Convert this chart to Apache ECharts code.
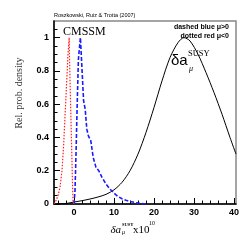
<!DOCTYPE html>
<html><head><meta charset="utf-8">
<script src="https://cdn.jsdelivr.net/npm/echarts@6/dist/echarts.min.js"></script>
<style>html,body{margin:0;padding:0;background:#fff}#c{width:249px;height:249px}</style>
</head><body><div id="c"></div>
<script>
// Data
const blackX = [-5,-2,0,2,4,6,8,10,12,14,16,18,20,22,24,26,27.5,29,31,33,35,37,39,40.5];
const blackY = [0,0.003,0.012,0.02,0.03,0.042,0.058,0.085,0.13,0.2,0.3,0.43,0.58,0.74,0.88,0.97,1.0,0.98,0.9,0.79,0.67,0.54,0.4,0.3];
const blueX = [0,0.25,0.5,0.8,1.1,1.5,1.6,2.0,2.4,2.8,3.2,3.6,4.2,4.8,5.5,6.2,7,8,9,10,11,12,13,14,15,16,17,18];
const blueY = [0,0.08,0.3,0.6,0.87,0.87,1.0,1.0,0.62,0.57,0.45,0.41,0.38,0.28,0.22,0.2,0.16,0.12,0.09,0.065,0.045,0.032,0.022,0.015,0.01,0.006,0.003,0];
const redX = [-5,-4.5,-4,-3.5,-3,-2.6,-2.2,-1.8,-1.5,-1.2,-1.1,-0.8,-0.6,-0.4,-0.25,0];
const redY = [0,0.02,0.05,0.1,0.2,0.35,0.55,0.75,0.9,1.0,0.85,0.55,0.35,0.15,0.02,0];
const xMajorTicks = [0,10,20,30,40];
const xMinorTicks = [-4,-2,2,4,6,8,12,14,16,18,22,24,26,28,32,34,36,38];
const yMajorTicks = [0,0.2,0.4,0.6,0.8,1];
const yMinorTicks = [0.05,0.1,0.15,0.25,0.3,0.35,0.45,0.5,0.55,0.65,0.7,0.75,0.85,0.9,0.95,1.05];

const zip = (xs, ys) => xs.map((x, i) => [x, ys[i]]);
const chart = echarts.init(document.getElementById('c'));
const lblFont = {fontFamily:'Liberation Sans', fontWeight:'bold', fontSize:9, color:'#000'};
chart.setOption({
  animation:false,
  grid:{left:54, right:13, top:21, bottom:45, show:true, borderColor:'#888', borderWidth:1.5, backgroundColor:'transparent'},
  xAxis:[
    {type:'value', min:-5, max:40.5, gridIndex:0,
     axisLine:{show:true, onZero:false, lineStyle:{color:'#000', width:1.5}},
     axisTick:{show:true, inside:true, length:6, customValues:xMajorTicks, lineStyle:{color:'#000'}},
     axisLabel:{show:true, customValues:xMajorTicks, margin:4, ...lblFont},
     splitLine:{show:false}},
    {type:'value', min:-5, max:40.5, gridIndex:0, position:'bottom',
     axisLine:{show:false, onZero:false},
     axisTick:{show:true, inside:true, length:3.5, customValues:xMinorTicks, lineStyle:{color:'#000'}},
     axisLabel:{show:false}, splitLine:{show:false}}
  ],
  yAxis:[
    {type:'value', min:0, max:1.1, gridIndex:0,
     axisLine:{show:true, onZero:false, lineStyle:{color:'#000', width:1.5}},
     axisTick:{show:true, inside:true, length:6, customValues:yMajorTicks, lineStyle:{color:'#000'}},
     axisLabel:{show:true, customValues:yMajorTicks, margin:5, ...lblFont,
       formatter:v => (v===0?'0':(v===1?'1':v.toFixed(1)))},
     splitLine:{show:false}},
    {type:'value', min:0, max:1.1, gridIndex:0, position:'left',
     axisLine:{show:false, onZero:false},
     axisTick:{show:true, inside:true, length:3.5, customValues:yMinorTicks, lineStyle:{color:'#000'}},
     axisLabel:{show:false}, splitLine:{show:false}}
  ],
  series:[
    {type:'line', data:zip(blackX, blackY), smooth:0.3, symbol:'none', lineStyle:{color:'#000', width:1}},
    {type:'line', data:zip(blueX, blueY), symbol:'none', lineStyle:{color:'#1a1aff', width:1.6, type:[4,2]}},
    {type:'line', data:zip(redX, redY), symbol:'none', lineStyle:{color:'#ff2020', width:1.2, type:[1.5,1.5]}}
  ],
  graphic:[
    {type:'text', left:54, top:12, style:{text:'Roszkowski, Ruiz & Trotta (2007)', font:'5.5px "Liberation Sans"', fill:'#000'}},
    {type:'text', x:63, y:31.5, style:{text:'CMSSM', font:'12px "Liberation Serif"', fill:'#000', verticalAlign:'middle'}},
    {type:'text', x:229, y:27, style:{text:'dashed blue \u03bc>0', font:'bold 7px "Liberation Sans"', fill:'#000', align:'right', verticalAlign:'middle'}},
    {type:'text', x:229, y:36.5, style:{text:'dotted red \u03bc<0', font:'bold 7px "Liberation Sans"', fill:'#000', align:'right', verticalAlign:'middle'}},
    {type:'text', x:171, y:61, style:{text:'\u03b4a', font:'15px "Liberation Sans"', fill:'#000', verticalAlign:'middle'}},
    {type:'text', x:188, y:54, style:{text:'SUSY', font:'8.5px "Liberation Serif"', fill:'#000', verticalAlign:'middle'}},
    {type:'text', x:189, y:69, style:{text:'\u03bc', font:'italic 8px "Liberation Serif"', fill:'#000', verticalAlign:'middle'}},
    {type:'text', x:19, y:93, rotation:Math.PI/2, style:{text:'Rel. prob. density', font:'10px "Liberation Serif"', fill:'#333', align:'center', verticalAlign:'middle'}},
    {type:'text', x:110.5, y:230, style:{text:'\u03b4a', font:'italic 11px "Liberation Serif"', fill:'#000', verticalAlign:'middle'}},
    {type:'text', x:122, y:224.5, style:{text:'SUSY', font:'bold 4.5px "Liberation Serif"', fill:'#000', verticalAlign:'middle'}},
    {type:'text', x:122, y:232.5, style:{text:'\u03bc', font:'italic 6px "Liberation Serif"', fill:'#000', verticalAlign:'middle'}},
    {type:'text', x:133, y:230, style:{text:'x10', font:'11px "Liberation Serif"', fill:'#000', verticalAlign:'middle'}},
    {type:'text', x:149, y:223.5, style:{text:'10', font:'6px "Liberation Serif"', fill:'#000', verticalAlign:'middle'}}
  ]
});
</script></body></html>
